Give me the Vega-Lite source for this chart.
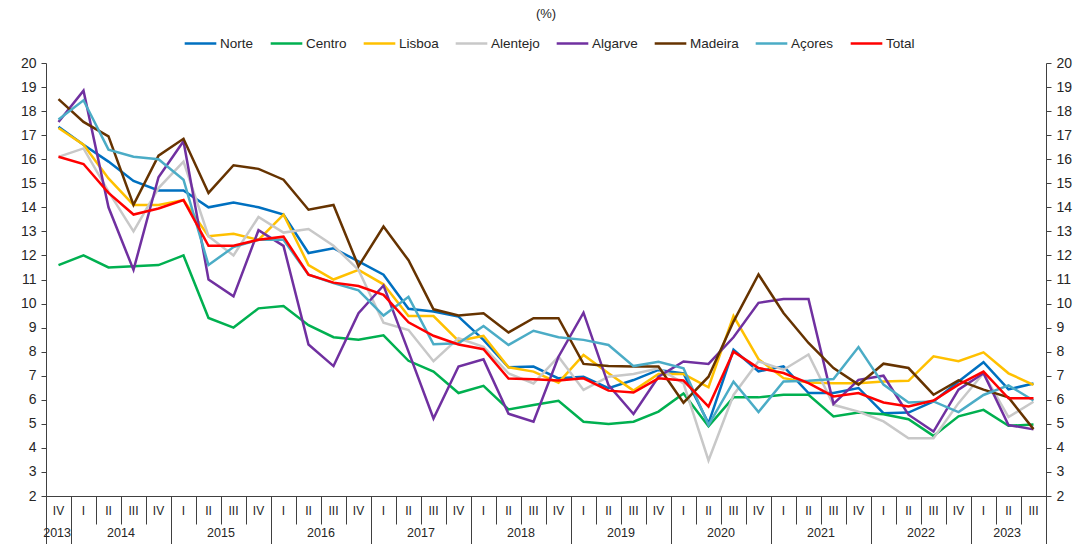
{
  "$schema": "https://vega.github.io/schema/vega-lite/v6.json",
  "width": 1000,
  "height": 433,
  "autosize": {"type": "none"},
  "padding": {"left": 46, "top": 63, "right": 34, "bottom": 48},
  "background": "white",
  "title": {"text": "(%)", "fontSize": 13, "fontWeight": "normal", "font": "Liberation Sans", "color": "#262626", "anchor": "middle", "frame": "group", "offset": 5},
  "config": {
    "view": {"stroke": null},
    "font": "Liberation Sans"
  },
  "data": {"values": [
    {"period": "2013-IV", "Norte": 17.35, "Centro": 11.6, "Lisboa": 17.3, "Alentejo": 16.1, "Algarve": 17.55, "Madeira": 18.5, "Açores": 17.65, "Total": 16.1},
    {"period": "2014-I", "Norte": 16.6, "Centro": 12.0, "Lisboa": 16.6, "Alentejo": 16.45, "Algarve": 18.85, "Madeira": 17.55, "Açores": 18.45, "Total": 15.8},
    {"period": "2014-II", "Norte": 15.9, "Centro": 11.5, "Lisboa": 15.2, "Alentejo": 14.65, "Algarve": 14.0, "Madeira": 16.95, "Açores": 16.4, "Total": 14.6},
    {"period": "2014-III", "Norte": 15.1, "Centro": 11.55, "Lisboa": 14.1, "Alentejo": 13.0, "Algarve": 11.4, "Madeira": 14.1, "Açores": 16.1, "Total": 13.7},
    {"period": "2014-IV", "Norte": 14.7, "Centro": 11.6, "Lisboa": 14.1, "Alentejo": 14.8, "Algarve": 15.25, "Madeira": 16.15, "Açores": 16.0, "Total": 13.95},
    {"period": "2015-I", "Norte": 14.7, "Centro": 12.0, "Lisboa": 14.3, "Alentejo": 15.9, "Algarve": 16.75, "Madeira": 16.85, "Açores": 15.15, "Total": 14.3},
    {"period": "2015-II", "Norte": 14.0, "Centro": 9.4, "Lisboa": 12.8, "Alentejo": 12.8, "Algarve": 11.0, "Madeira": 14.6, "Açores": 11.6, "Total": 12.4},
    {"period": "2015-III", "Norte": 14.2, "Centro": 9.0, "Lisboa": 12.9, "Alentejo": 12.0, "Algarve": 10.3, "Madeira": 15.75, "Açores": 12.35, "Total": 12.4},
    {"period": "2015-IV", "Norte": 14.0, "Centro": 9.8, "Lisboa": 12.65, "Alentejo": 13.6, "Algarve": 13.05, "Madeira": 15.6, "Açores": 12.65, "Total": 12.65},
    {"period": "2016-I", "Norte": 13.7, "Centro": 9.9, "Lisboa": 13.7, "Alentejo": 12.95, "Algarve": 12.4, "Madeira": 15.15, "Açores": 12.65, "Total": 12.78},
    {"period": "2016-II", "Norte": 12.1, "Centro": 9.1, "Lisboa": 11.6, "Alentejo": 13.1, "Algarve": 8.3, "Madeira": 13.9, "Açores": 11.2, "Total": 11.2},
    {"period": "2016-III", "Norte": 12.3, "Centro": 8.6, "Lisboa": 11.0, "Alentejo": 12.4, "Algarve": 7.4, "Madeira": 14.1, "Açores": 10.85, "Total": 10.87},
    {"period": "2016-IV", "Norte": 11.75, "Centro": 8.5, "Lisboa": 11.4, "Alentejo": 11.4, "Algarve": 9.6, "Madeira": 11.55, "Açores": 10.55, "Total": 10.73},
    {"period": "2017-I", "Norte": 11.2, "Centro": 8.68, "Lisboa": 10.8, "Alentejo": 9.2, "Algarve": 10.75, "Madeira": 13.2, "Açores": 9.5, "Total": 10.36},
    {"period": "2017-II", "Norte": 9.78, "Centro": 7.62, "Lisboa": 9.48, "Alentejo": 8.9, "Algarve": 8.0, "Madeira": 11.8, "Açores": 10.28, "Total": 9.22},
    {"period": "2017-III", "Norte": 9.67, "Centro": 7.17, "Lisboa": 9.48, "Alentejo": 7.6, "Algarve": 5.22, "Madeira": 9.76, "Açores": 8.31, "Total": 8.66},
    {"period": "2017-IV", "Norte": 9.46, "Centro": 6.28, "Lisboa": 8.45, "Alentejo": 8.56, "Algarve": 7.38, "Madeira": 9.5, "Açores": 8.35, "Total": 8.3},
    {"period": "2018-I", "Norte": 8.49, "Centro": 6.58, "Lisboa": 8.66, "Alentejo": 8.2, "Algarve": 7.68, "Madeira": 9.6, "Açores": 9.07, "Total": 8.1},
    {"period": "2018-II", "Norte": 7.35, "Centro": 5.6, "Lisboa": 7.35, "Alentejo": 7.1, "Algarve": 5.42, "Madeira": 8.8, "Açores": 8.28, "Total": 6.88},
    {"period": "2018-III", "Norte": 7.38, "Centro": 5.78, "Lisboa": 7.17, "Alentejo": 6.68, "Algarve": 5.09, "Madeira": 9.39, "Açores": 8.87, "Total": 6.85},
    {"period": "2018-IV", "Norte": 6.89, "Centro": 5.96, "Lisboa": 6.71, "Alentejo": 7.79, "Algarve": 7.79, "Madeira": 9.39, "Açores": 8.6, "Total": 6.8},
    {"period": "2019-I", "Norte": 6.96, "Centro": 5.09, "Lisboa": 7.86, "Alentejo": 6.41, "Algarve": 9.62, "Madeira": 7.49, "Açores": 8.49, "Total": 6.89},
    {"period": "2019-II", "Norte": 6.48, "Centro": 4.99, "Lisboa": 7.1, "Alentejo": 6.96, "Algarve": 6.61, "Madeira": 7.4, "Açores": 8.28, "Total": 6.38},
    {"period": "2019-III", "Norte": 6.82, "Centro": 5.09, "Lisboa": 6.38, "Alentejo": 7.07, "Algarve": 5.41, "Madeira": 7.38, "Açores": 7.4, "Total": 6.3},
    {"period": "2019-IV", "Norte": 7.24, "Centro": 5.51, "Lisboa": 7.07, "Alentejo": 7.31, "Algarve": 6.96, "Madeira": 7.38, "Açores": 7.58, "Total": 6.89},
    {"period": "2020-I", "Norte": 7.1, "Centro": 6.26, "Lisboa": 7.07, "Alentejo": 6.68, "Algarve": 7.59, "Madeira": 5.88, "Açores": 7.31, "Total": 6.8},
    {"period": "2020-II", "Norte": 5.02, "Centro": 4.9, "Lisboa": 6.52, "Alentejo": 3.48, "Algarve": 7.49, "Madeira": 6.96, "Açores": 4.95, "Total": 5.72},
    {"period": "2020-III", "Norte": 8.08, "Centro": 6.1, "Lisboa": 9.48, "Alentejo": 6.2, "Algarve": 8.6, "Madeira": 9.25, "Açores": 6.75, "Total": 8.0},
    {"period": "2020-IV", "Norte": 7.18, "Centro": 6.1, "Lisboa": 7.69, "Alentejo": 7.6, "Algarve": 10.03, "Madeira": 11.21, "Açores": 5.49, "Total": 7.32},
    {"period": "2021-I", "Norte": 7.39, "Centro": 6.21, "Lisboa": 6.9, "Alentejo": 7.25, "Algarve": 10.19, "Madeira": 9.61, "Açores": 6.76, "Total": 7.11},
    {"period": "2021-II", "Norte": 6.28, "Centro": 6.21, "Lisboa": 6.72, "Alentejo": 7.88, "Algarve": 10.19, "Madeira": 8.36, "Açores": 6.79, "Total": 6.69},
    {"period": "2021-III", "Norte": 6.28, "Centro": 5.31, "Lisboa": 6.69, "Alentejo": 5.79, "Algarve": 5.83, "Madeira": 7.32, "Açores": 6.86, "Total": 6.14},
    {"period": "2021-IV", "Norte": 6.49, "Centro": 5.47, "Lisboa": 6.69, "Alentejo": 5.51, "Algarve": 6.83, "Madeira": 6.63, "Açores": 8.19, "Total": 6.28},
    {"period": "2022-I", "Norte": 5.44, "Centro": 5.4, "Lisboa": 6.76, "Alentejo": 5.1, "Algarve": 7.0, "Madeira": 7.5, "Açores": 6.63, "Total": 5.89},
    {"period": "2022-II", "Norte": 5.47, "Centro": 5.19, "Lisboa": 6.79, "Alentejo": 4.4, "Algarve": 5.38, "Madeira": 7.32, "Açores": 5.89, "Total": 5.72},
    {"period": "2022-III", "Norte": 5.93, "Centro": 4.5, "Lisboa": 7.81, "Alentejo": 4.4, "Algarve": 4.68, "Madeira": 6.21, "Açores": 5.93, "Total": 5.97},
    {"period": "2022-IV", "Norte": 6.76, "Centro": 5.31, "Lisboa": 7.6, "Alentejo": 5.86, "Algarve": 6.42, "Madeira": 6.81, "Açores": 5.49, "Total": 6.63},
    {"period": "2023-I", "Norte": 7.56, "Centro": 5.58, "Lisboa": 7.97, "Alentejo": 7.1, "Algarve": 7.1, "Madeira": 6.42, "Açores": 6.2, "Total": 7.17},
    {"period": "2023-II", "Norte": 6.43, "Centro": 4.92, "Lisboa": 7.1, "Alentejo": 5.28, "Algarve": 4.95, "Madeira": 6.1, "Açores": 6.6, "Total": 6.06},
    {"period": "2023-III", "Norte": 6.68, "Centro": 4.97, "Lisboa": 6.62, "Alentejo": 5.92, "Algarve": 4.77, "Madeira": 4.78, "Açores": 5.97, "Total": 6.06}
  ]},
  "transform": [
    {"fold": ["Norte", "Centro", "Lisboa", "Alentejo", "Algarve", "Madeira", "Açores", "Total"], "as": ["region", "rate"]}
  ],
  "layer": [
    {
      "mark": {"type": "line", "strokeWidth": 2.5},
      "encoding": {
        "x": {
          "field": "period", "type": "ordinal", "sort": null,
          "scale": {"type": "band", "paddingInner": 0, "paddingOuter": 0},
          "axis": {"orient": "bottom", "title": null, "ticks": false, "domain": true, "domainColor": "#404040", "domainWidth": 1,
                   "labelExpr": "split(datum.value, '-')[1]", "labelAngle": 0, "labelBaseline": "middle", "labelPadding": 14,
                   "labelFontSize": 12, "labelColor": "#262626", "labelFont": "Liberation Sans", "labelOverlap": false, "labelFlush": false}
        },
        "y": {
          "field": "rate", "type": "quantitative",
          "scale": {"domain": [2, 20], "nice": false, "zero": false},
          "axis": {"orient": "left", "title": null, "grid": false, "values": [2,3,4,5,6,7,8,9,10,11,12,13,14,15,16,17,18,19,20],
                   "tickSize": 5, "labelPadding": 5, "labelFontSize": 14, "labelColor": "#262626", "labelFont": "Liberation Sans",
                   "domainColor": "#404040", "tickColor": "#404040", "labelOverlap": false}
        },
        "color": {
          "field": "region", "type": "nominal",
          "scale": {"domain": ["Norte", "Centro", "Lisboa", "Alentejo", "Algarve", "Madeira", "Açores", "Total"],
                    "range": ["#0070C0", "#00B050", "#FFC000", "#C8C8C8", "#7030A0", "#663300", "#4BACC6", "#FF0000"]},
          "legend": {"title": null, "orient": "none", "legendX": 137, "legendY": -37, "direction": "horizontal", "symbolType": "stroke", "symbolStrokeWidth": 2.5,
                     "symbolSize": 1000, "labelFontSize": 13.5, "labelFont": "Liberation Sans", "labelColor": "#262626",
                     "columnPadding": 11, "labelOffset": 2, "padding": 0}
        }
      }
    },
    {
      "mark": {"type": "line", "opacity": 0},
      "encoding": {
        "x": {
          "field": "period", "type": "ordinal", "sort": null,
          "scale": {"type": "band", "paddingInner": 0, "paddingOuter": 0},
          "axis": {"orient": "bottom", "title": null, "labels": false, "domain": false, "ticks": true, "tickBand": "extent",
                   "tickColor": "#404040", "tickWidth": 1, "tickSize": 28}
        },
        "y": {
          "field": "rate", "type": "quantitative",
          "axis": {"orient": "right", "title": null, "grid": false, "values": [2,3,4,5,6,7,8,9,10,11,12,13,14,15,16,17,18,19,20],
                   "tickSize": 5, "labelPadding": 5, "labelFontSize": 14, "labelColor": "#262626", "labelFont": "Liberation Sans",
                   "domainColor": "#404040", "tickColor": "#404040", "labelOverlap": false}
        },
        "detail": {"field": "region"}
      }
    },
    {
      "mark": {"type": "line", "opacity": 0},
      "encoding": {
        "x": {
          "field": "period", "type": "ordinal", "sort": null,
          "scale": {"type": "band", "paddingInner": 0, "paddingOuter": 0},
          "axis": {"orient": "bottom", "title": null, "labels": false, "domain": false, "ticks": true,
                   "values": ["2013-IV", "2014-IV", "2015-IV", "2016-IV", "2017-IV", "2018-IV", "2019-IV", "2020-IV", "2021-IV", "2022-IV", "2023-III"],
                   "bandPosition": 1, "tickExtra": true,
                   "tickColor": "#404040", "tickWidth": 1, "tickSize": 48}
        },
        "y": {"field": "rate", "type": "quantitative", "axis": null},
        "detail": {"field": "region"}
      }
    },
    {
      "mark": {"type": "line", "opacity": 0},
      "encoding": {
        "x": {
          "field": "period", "type": "ordinal", "sort": null,
          "scale": {"type": "band", "paddingInner": 0, "paddingOuter": 0},
          "axis": {"orient": "bottom", "title": null, "ticks": false, "domain": false,
                   "values": ["2013-IV", "2014-II", "2015-II", "2016-II", "2017-II", "2018-II", "2019-II", "2020-II", "2021-II", "2022-II", "2023-II"],
                   "labelExpr": "split(datum.value, '-')[0]",
                   "labelOffset": 12.5,
                   "labelAlign": {"condition": {"test": "datum.value == '2013-IV' || datum.value == '2023-II'", "value": "right"}, "value": "center"},
                   "labelAngle": 0, "labelBaseline": "middle", "labelPadding": 36, "labelFontSize": 12.5,
                   "labelColor": "#262626", "labelFont": "Liberation Sans", "labelOverlap": false, "labelFlush": false}
        },
        "y": {"field": "rate", "type": "quantitative", "axis": null},
        "detail": {"field": "region"}
      }
    }
  ],
  "resolve": {"axis": {"x": "independent", "y": "independent"}}
}
